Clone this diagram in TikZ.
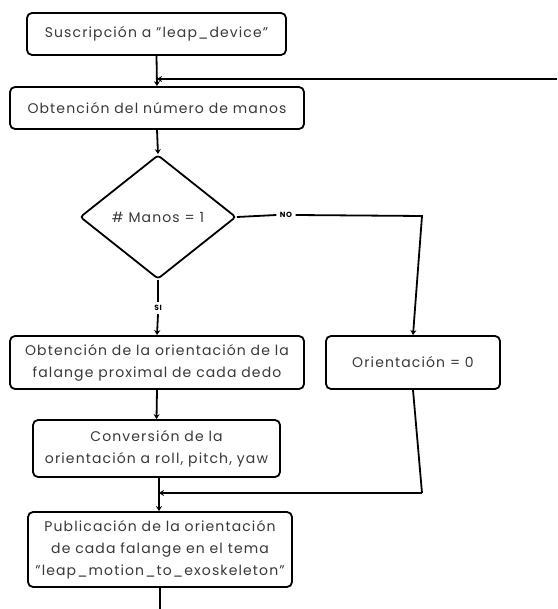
\documentclass[tikz,border=0pt]{standalone}
\usepackage{fontspec}
\setmainfont{Poppins}[LetterSpace=8]
\usetikzlibrary{shapes.geometric,arrows.meta}
\newcommand\myqt{\symbol{34}}
\begin{document}
\begin{tikzpicture}[x=1pt,y=-1pt,
  box/.style={draw,line width=1.8pt,rounded corners=5pt,align=center,inner sep=0pt,
    font=\fontsize{14}{22}\selectfont,text=black!78},
  lab/.style={font=\fontsize{7.5}{8}\bfseries\selectfont},
  conn/.style={line width=1.8pt},
  arr/.style={conn,-{Stealth[length=5pt,width=6pt]}}]
\useasboundingbox (0,0) rectangle (557,609);
\node[box,minimum width=259pt,minimum height=42pt] (b1) at (156.5,34) {Suscripción a \myqt leap\_device\myqt};
\node[box,minimum width=294pt,minimum height=42pt] (b2) at (157,108) {Obtención del número de manos};
\node[draw,line width=1.8pt,diamond,minimum width=156pt,minimum height=124pt,inner sep=0pt,
  rounded corners=3pt,font=\fontsize{14}{15}\selectfont,text=black!78] (d) at (158,217) {\# Manos = 1};
\node[box,minimum width=294pt,minimum height=53pt] (b3) at (157,362.5) {Obtención de la orientación de la\\falange proximal de cada dedo};
\node[box,minimum width=174pt,minimum height=53pt] (o) at (413,362.5) {Orientación = 0};
\node[box,minimum width=247pt,minimum height=57pt] (b4) at (156.5,448.5) {Conversión de la\\orientación a roll, pitch, yaw};
\node[box,minimum width=264pt,minimum height=75pt] (b5) at (160,549.5) {Publicación de la orientación\\de cada falange en el tema\\\myqt leap\_motion\_to\_exoskeleton\myqt};
\node[lab] (no) at (286,215) {NO};
\node[lab] (si) at (158,308) {SI};
\coordinate (loopin) at (557,79);
\coordinate (j1) at (157,79);
\coordinate (j2) at (159,493);
\coordinate (nocorner) at (422,216);
\coordinate (oend) at (422,493);
\coordinate (bend) at (160,609);
\draw[arr] (b1.south) -- (b2.north);
\draw[arr] (loopin) -- (j1);
\draw[arr] (b2.south) -- (d.north);
\draw[conn] (d.east) -- (no.west);
\draw[arr] (no.east) -- (nocorner) -- (o.north);
\draw[conn] (d.south) -- (si.north);
\draw[arr] (si.south) -- (b3.north);
\draw[arr] (b3.south) -- (b4.north);
\draw[conn] (o.south) -- (oend);
\draw[arr] (oend) -- (j2);
\draw[arr] (b4.south -| j2) -- (b5.north -| j2);
\draw[conn] (b5.south) -- (bend);
\end{tikzpicture}
\end{document}
